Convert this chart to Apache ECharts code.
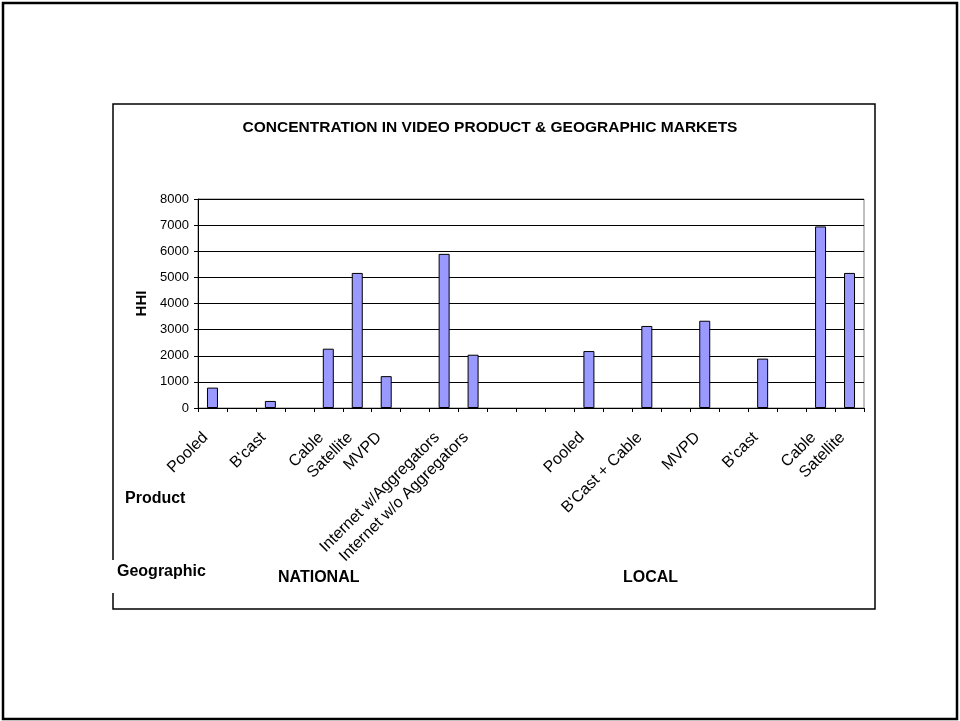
<!DOCTYPE html>
<html>
<head>
<meta charset="utf-8">
<script src="https://cdn.jsdelivr.net/npm/echarts@6/dist/echarts.min.js"></script>
<style>
  html, body { margin: 0; padding: 0; background: #fff; }
  #chart { width: 960px; height: 721px; }
</style>
</head>
<body>
<div id="chart"></div>
<script>
// Product market categories (blank slots separate the groups)
const categories = [
  'Pooled', '', "B'cast", '', 'Cable', 'Satellite', 'MVPD', '',
  'Internet w/Aggregators', 'Internet w/o Aggregators', '', '', '',
  'Pooled', '', "B'Cast + Cable", '', 'MVPD', '', "B'cast", '', 'Cable', 'Satellite'
];

// HHI for each product market
const hhiValues = [
  780, null, 270, null, 2270, 5170, 1220, null,
  5900, 2040, null, null, null,
  2180, null, 3140, null, 3340, null, 1890, null, 6950, 5170
];

// Value axis ticks
const yMin = 0;
const yMax = 8000;
const yStep = 1000;

const FONT = 'Arial, "Liberation Sans", sans-serif';

const chart = echarts.init(document.getElementById('chart'), null, { renderer: 'canvas' });

chart.setOption({
  animation: false,
  backgroundColor: '#ffffff',
  grid: {
    left: 198, top: 199, right: 96, bottom: 313,
    show: true, borderColor: '#808080', borderWidth: 1, backgroundColor: 'transparent'
  },
  xAxis: {
    type: 'category',
    data: categories,
    boundaryGap: true,
    axisLine: { show: true, lineStyle: { color: '#000', width: 1 } },
    axisTick: { show: true, length: 4, inside: false, lineStyle: { color: '#000' } },
    axisLabel: {
      interval: 0, rotate: 45, margin: 20,
      // nudge the rotated labels slightly left of the tick centre
      padding: [0, 10, 20, 0],
      color: '#000', fontFamily: FONT, fontSize: 16
    },
    splitLine: { show: false }
  },
  yAxis: {
    type: 'value',
    min: yMin, max: yMax, interval: yStep,
    name: 'HHI',
    nameLocation: 'middle',
    nameRotate: 90,
    nameGap: 49,
    nameTextStyle: { color: '#000', fontFamily: FONT, fontSize: 15, fontWeight: 'bold' },
    axisLine: { show: true, lineStyle: { color: '#000', width: 1 } },
    axisTick: { show: true, length: 4, inside: false, lineStyle: { color: '#000' } },
    axisLabel: {
      margin: 9, color: '#000', fontFamily: FONT, fontSize: 13,
      formatter: function (v) { return String(v); }
    },
    splitLine: { show: true, lineStyle: { color: '#000', width: 1 } }
  },
  series: [{
    type: 'bar',
    data: hhiValues,
    barWidth: 11,
    itemStyle: { color: '#9999ff', borderColor: '#000', borderWidth: 1 }
  }],
  graphic: [
    // outer page frame
    { type: 'rect', silent: true, z: 100,
      shape: { x: 3, y: 3, width: 954, height: 716 },
      style: { fill: 'none', stroke: '#000', lineWidth: 2.5 } },
    // chart frame
    { type: 'rect', silent: true, z: 100,
      shape: { x: 113, y: 104, width: 762, height: 505 },
      style: { fill: 'none', stroke: '#000', lineWidth: 1.5 } },
    // chart title
    { type: 'text', z: 101, x: 490, y: 128,
      style: { text: 'CONCENTRATION IN VIDEO PRODUCT & GEOGRAPHIC MARKETS',
        fill: '#000', font: 'bold 15.5px ' + FONT, textAlign: 'center', textVerticalAlign: 'middle' } },
    // row captions
    { type: 'text', z: 101, x: 125, y: 499,
      style: { text: 'Product', fill: '#000', font: 'bold 16px ' + FONT,
        textAlign: 'left', textVerticalAlign: 'middle' } },
    { type: 'rect', silent: true, z: 101,
      shape: { x: 110, y: 560, width: 10, height: 33 },
      style: { fill: '#fff', stroke: 'none' } },
    { type: 'text', z: 102, x: 117, y: 572,
      style: { text: 'Geographic', fill: '#000', font: 'bold 16px ' + FONT,
        textAlign: 'left', textVerticalAlign: 'middle' } },
    { type: 'text', z: 101, x: 278, y: 578,
      style: { text: 'NATIONAL', fill: '#000', font: 'bold 16px ' + FONT,
        textAlign: 'left', textVerticalAlign: 'middle' } },
    { type: 'text', z: 101, x: 623, y: 578,
      style: { text: 'LOCAL', fill: '#000', font: 'bold 16px ' + FONT,
        textAlign: 'left', textVerticalAlign: 'middle' } }
  ]
});
</script>
</body>
</html>
